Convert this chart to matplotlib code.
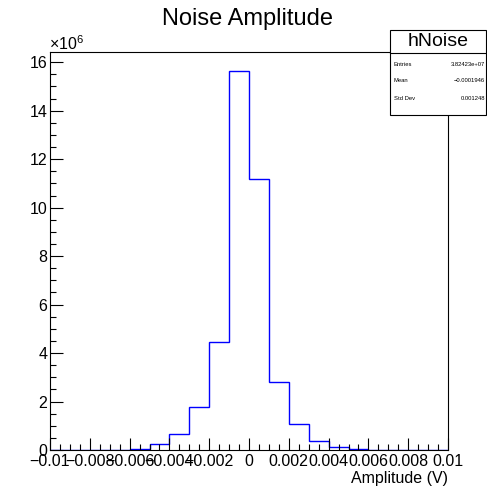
import numpy as np
import matplotlib
matplotlib.use("Agg")
import matplotlib.pyplot as plt
from matplotlib.ticker import MultipleLocator, FuncFormatter
from matplotlib.patches import Rectangle
from matplotlib.lines import Line2D

plt.rcParams['font.family'] = ['Liberation Sans', 'DejaVu Sans']
plt.rcParams['mathtext.fontset'] = 'custom'
plt.rcParams['mathtext.rm'] = 'Liberation Sans'
plt.rcParams['mathtext.it'] = 'Liberation Sans'

# histogram hNoise: 20 bins from -0.01 to 0.01 V, contents in units of 1e6
bin_edges = np.linspace(-0.01, 0.01, 21)
counts_millions = [0, 0, 0, 0, 0.05, 0.23, 0.65, 1.77, 4.47, 15.64,
                   11.19, 2.81, 1.06, 0.37, 0.14, 0.05, 0, 0, 0, 0]

stats_names = ["Entries", "Mean", "Std Dev"]
stats_values = ["3.82423e+07", "\u22120.0001946", "0.001248"]

W, H = 487, 488
fig = plt.figure(figsize=(W / 100, H / 100), dpi=100)
ax = fig.add_axes([50 / W, 1 - 450 / H, 398 / W, 398 / H])

ax.stairs(counts_millions, bin_edges, color='#0000ff', linewidth=1.0)

ax.set_xlim(-0.01, 0.01)
ax.set_ylim(0, max(counts_millions) * 1.05)

ax.xaxis.set_major_locator(MultipleLocator(0.002))
ax.xaxis.set_minor_locator(MultipleLocator(0.0005))
ax.yaxis.set_major_locator(MultipleLocator(2))
ax.yaxis.set_minor_locator(MultipleLocator(0.5))


def xfmt(v, pos):
    if abs(v) < 1e-12:
        return "0"
    return ("%g" % round(v, 4)).replace("-", "\u2212")


ax.xaxis.set_major_formatter(FuncFormatter(xfmt))
ax.yaxis.set_major_formatter(FuncFormatter(lambda v, p: "%d" % round(v)))

ax.tick_params(which='both', direction='in', top=False, right=False,
               labelsize=11.5, width=0.8)
ax.tick_params(which='major', length=9)
ax.tick_params(which='minor', length=4.5)
ax.tick_params(axis='x', pad=3)
ax.tick_params(axis='y', pad=2)
for s in ax.spines.values():
    s.set_linewidth(0.8)

ax.set_xlabel("Amplitude (V)", fontsize=11.5, loc='right', labelpad=1)

fig.text(248 / W, 1 - 19 / H, "Noise Amplitude", fontsize=17,
         ha='center', va='center')
fig.text(49 / W, 1 - 50 / H, r"$\times10^{6}$", fontsize=11.5,
         ha='left', va='baseline')

# stats box
bx0, bx1 = 390 / W, 486 / W
by_top, by_sep, by_bot = 1 - 30 / H, 1 - 53 / H, 1 - 115 / H
fig.patches.append(Rectangle((bx0, by_bot), bx1 - bx0, by_top - by_bot,
                             transform=fig.transFigure, facecolor='white',
                             edgecolor='black', linewidth=0.8, zorder=10))
fig.lines.append(Line2D([bx0, bx1], [by_sep, by_sep], transform=fig.transFigure,
                        color='black', linewidth=0.8, zorder=11))
fig.text((bx0 + bx1) / 2, 1 - 42 / H, "hNoise", fontsize=14,
         ha='center', va='center', zorder=12)
row_y = [65, 81, 98]
for name, val, ry in zip(stats_names, stats_values, row_y):
    fig.text(394 / W, 1 - ry / H, name, fontsize=4.2, ha='left',
             va='center', zorder=12)
    fig.text(485 / W, 1 - ry / H, val, fontsize=4.2, ha='right',
             va='center', zorder=12)

fig.savefig("out.png", dpi=100)
